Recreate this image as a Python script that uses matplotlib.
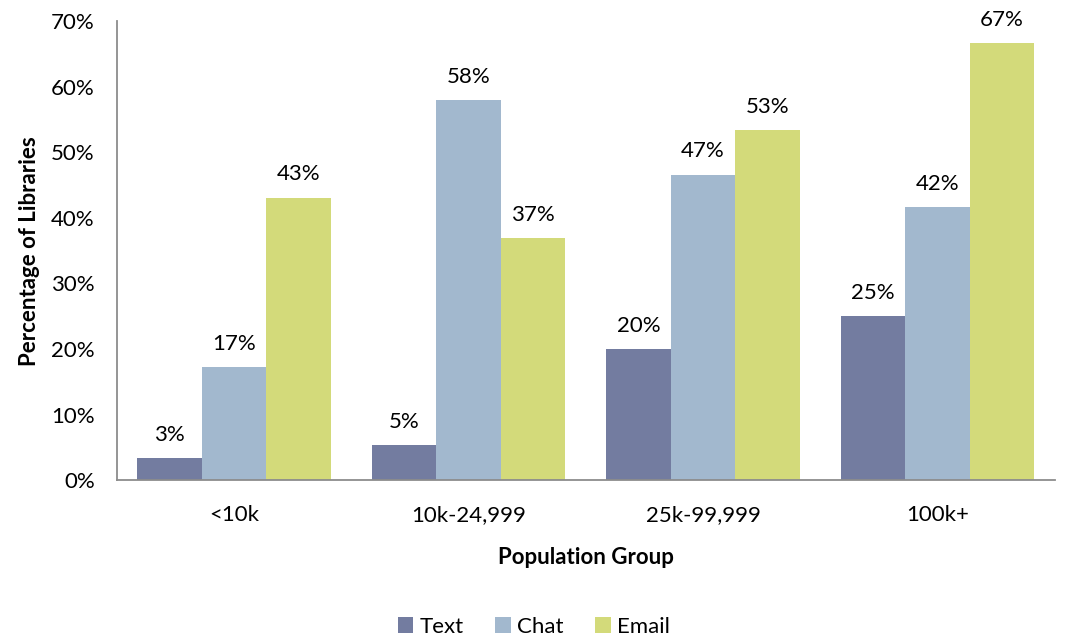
import matplotlib.pyplot as plt
import numpy as np

plt.rcParams['font.family'] = ['Lato', 'DejaVu Sans']

groups = ['<10k', '10k-24,999', '25k-99,999', '100k+']
text_pct = [3.4, 5.3, 20.0, 25.0]
chat_pct = [17.2, 57.9, 46.6, 41.6]
email_pct = [43.1, 36.9, 53.4, 66.6]
series = ['Text', 'Chat', 'Email']
colors = ['#737ca0', '#a2b8ce', '#d3da7a']

fig = plt.figure(figsize=(10.68, 6.41), dpi=100)
ax = fig.add_axes([0.1095, 0.251, 0.878, 0.716])

fs = 16
x = np.arange(len(groups))
w = 0.275
for i, (vals, name, c) in enumerate(zip([text_pct, chat_pct, email_pct], series, colors)):
    pos = x + (i - 1) * w
    ax.bar(pos, vals, w, color=c, label=name)
    for p, v in zip(pos, vals):
        ax.text(p, v + 2.0, f'{round(v)}%', ha='center', va='bottom', fontsize=fs)

ax.set_xlim(-0.5, len(groups) - 0.5)
ax.set_ylim(0, 70)
ax.set_yticks(range(0, 71, 10))
ax.set_yticklabels([f'{t}%' for t in range(0, 71, 10)], fontsize=fs)
ax.set_xticks(x)
ax.set_xticklabels(groups, fontsize=fs)
ax.tick_params(axis='y', length=0, pad=16)
ax.tick_params(axis='x', length=0, pad=18)
for s in ['top', 'right']:
    ax.spines[s].set_visible(False)
for s in ['left', 'bottom']:
    ax.spines[s].set_color('#8c8c8c')
    ax.spines[s].set_linewidth(1.3)
ax.set_ylabel('Percentage of Libraries', fontsize=fs, fontweight='bold', labelpad=8)
ax.set_xlabel('Population Group', fontsize=fs, fontweight='bold', labelpad=16)

fig.legend(loc='lower center', ncol=3, frameon=False, fontsize=fs,
           bbox_to_anchor=(0.5, -0.025), handlelength=0.7, handleheight=0.7,
           columnspacing=1.4, handletextpad=0.3)

fig.savefig('out.png', dpi=100)
